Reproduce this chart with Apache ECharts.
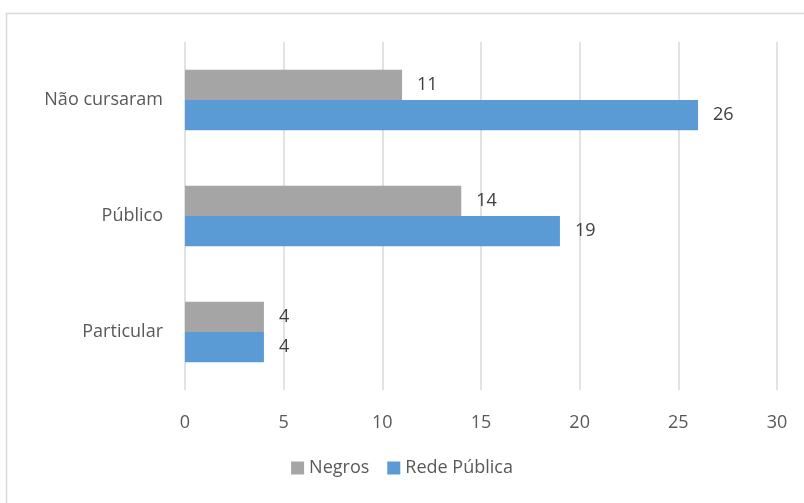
<!DOCTYPE html>
<html><head><meta charset="utf-8">
<script src="https://cdn.jsdelivr.net/npm/echarts@6/dist/echarts.min.js"></script>
<style>html,body{margin:0;padding:0;background:#fff}#c{width:804px;height:503px}</style>
</head><body><div id="c"></div>
<script>
const categories = ['Não cursaram', 'Público', 'Particular'];
const negros = [11, 14, 4];
const redePublica = [26, 19, 4];
const xTicks = [0, 5, 10, 15, 20, 25, 30];

const FONT = 'Open Sans';
const FS = 18;
const chart = echarts.init(document.getElementById('c'), null, {renderer: 'canvas'});
chart.setOption({
  animation: false,
  backgroundColor: '#fff',
  textStyle: {fontFamily: FONT},
  graphic: [{
    type: 'rect', shape: {x: 6.5, y: 13.5, width: 830, height: 520},
    style: {fill: 'none', stroke: '#d9d9d9', lineWidth: 1.5}, silent: true
  }],
  grid: {left: 185, right: 27, top: 42, bottom: 113, containLabel: false},
  legend: {
    data: ['Negros', 'Rede Pública'],
    bottom: 21, left: 'center', itemWidth: 13, itemHeight: 13, itemGap: 18,
    icon: 'rect',
    textStyle: {fontSize: FS, color: '#595959', fontFamily: FONT}
  },
  xAxis: {
    type: 'value', min: xTicks[0], max: xTicks[xTicks.length - 1], interval: 5,
    axisLine: {show: false}, axisTick: {show: false},
    splitLine: {lineStyle: {color: '#d9d9d9', width: 1.5}},
    axisLabel: {fontSize: FS, color: '#595959', margin: 24, fontFamily: FONT}
  },
  yAxis: {
    type: 'category', data: categories, inverse: true,
    axisLine: {show: false}, axisTick: {show: false},
    axisLabel: {fontSize: FS, color: '#595959', margin: 22, fontFamily: FONT}
  },
  series: [
    {
      name: 'Negros', type: 'bar', data: negros, barGap: '0%', barCategoryGap: '48%',
      itemStyle: {color: '#a5a5a5'},
      label: {show: true, position: 'right', distance: 15, fontSize: FS, color: '#404040', fontFamily: FONT}
    },
    {
      name: 'Rede Pública', type: 'bar', data: redePublica, barGap: '0%', barCategoryGap: '48%',
      itemStyle: {color: '#5b9bd5'},
      label: {show: true, position: 'right', distance: 15, fontSize: FS, color: '#404040', fontFamily: FONT}
    }
  ]
});
</script></body></html>
